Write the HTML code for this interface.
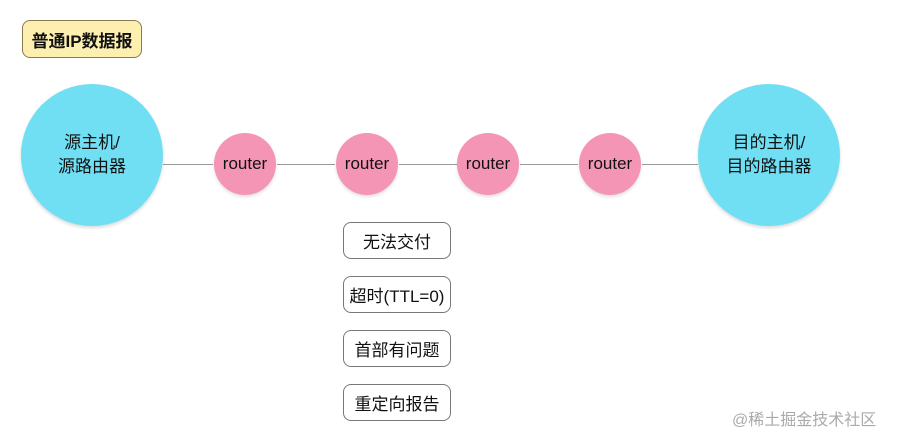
<!DOCTYPE html>
<html><head><meta charset="utf-8"><style>
body{margin:0;width:897px;height:433px;background:#fff;position:relative;overflow:hidden;font-family:"Liberation Sans","Noto Sans CJK SC",sans-serif;color:#111}
.a{position:absolute;box-sizing:border-box;display:flex;align-items:center;justify-content:center;text-align:center}
.big{width:142px;height:142px;border-radius:50%;background:#71dff3;font-size:17px;line-height:24px;box-shadow:0 2px 3px rgba(0,0,0,.15)}
.r{width:62px;height:62px;border-radius:50%;background:#f595b5;font-size:17px;top:133px;box-shadow:0 2px 3px rgba(0,0,0,.12)}
.b{left:343px;width:108px;height:37px;border:1px solid #777;border-radius:8px;font-size:17px;background:#fff}
.l{position:absolute;height:1px;background:#999;top:164px}
</style></head><body>
<div class="a" style="left:22px;top:20px;width:120px;height:38px;background:#fcefb0;border:1px solid #8a7a50;border-radius:8px;font-size:17px;font-weight:bold">普通IP数据报</div>
<div class="l" style="left:163px;width:50px"></div>
<div class="l" style="left:277px;width:58px"></div>
<div class="l" style="left:399px;width:58px"></div>
<div class="l" style="left:520px;width:58px"></div>
<div class="l" style="left:642px;width:56px"></div>
<div class="a big" style="left:21px;top:84px">源主机/<br>源路由器</div>
<div class="a big" style="left:698px;top:84px">目的主机/<br>目的路由器</div>
<div class="a r" style="left:214px">router</div>
<div class="a r" style="left:336px">router</div>
<div class="a r" style="left:457px">router</div>
<div class="a r" style="left:579px">router</div>
<div class="a b" style="top:222px">无法交付</div>
<div class="a b" style="top:276px">超时(TTL=0)</div>
<div class="a b" style="top:330px">首部有问题</div>
<div class="a b" style="top:384px">重定向报告</div>
<div style="position:absolute;left:732px;top:406px;font-size:16px;color:#aaa">@稀土掘金技术社区</div>
</body></html>
